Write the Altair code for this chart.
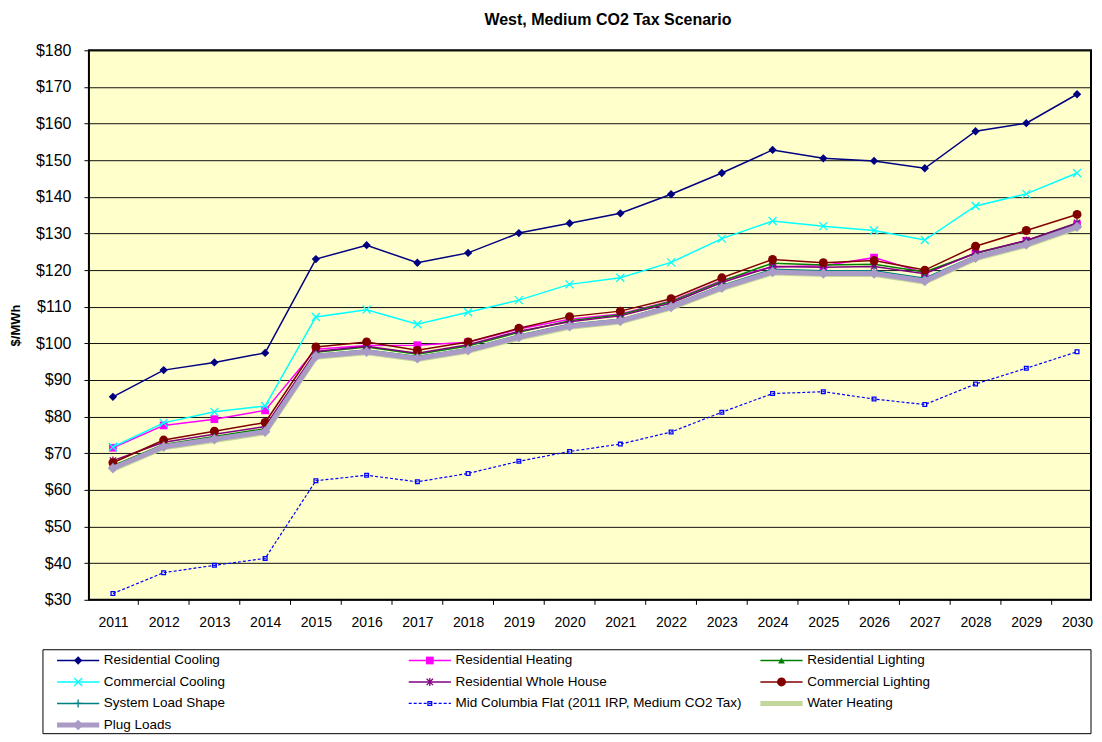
import altair as alt
import pandas as pd

# ---------------- data ----------------
years = [str(y) for y in range(2011, 2031)]

series_names = [
    "Residential Cooling",
    "Residential Heating",
    "Residential Lighting",
    "Commercial Cooling",
    "Residential Whole House",
    "Commercial Lighting",
    "System Load Shape",
    "Mid Columbia Flat (2011 IRP, Medium CO2 Tax)",
    "Water Heating",
    "Plug Loads",
]

residential_cooling = [85.4, 92.7, 94.8, 97.4, 123.0, 126.8, 122.0, 124.7, 130.1, 132.8,
                       135.5, 140.7, 146.5, 152.8, 150.5, 149.8, 147.8, 157.9, 160.1, 168.0]
residential_heating = [71.5, 77.6, 79.3, 81.7, 98.4, 99.4, 99.5, 100.3, 103.9, 106.6,
                       108.0, 111.6, 117.2, 120.9, 121.2, 123.4, 119.2, 124.5, 128.0, 132.4]
residential_lighting = [66.6, 72.4, 74.6, 76.7, 97.6, 99.0, 97.0, 99.3, 103.0, 106.2,
                        107.8, 111.4, 117.0, 121.9, 121.4, 121.6, 119.5, 124.6, 128.0, 132.8]
commercial_cooling = [71.7, 78.3, 81.3, 82.9, 107.2, 109.2, 105.2, 108.5, 111.8, 116.1,
                      117.9, 122.1, 128.6, 133.4, 132.0, 130.8, 128.2, 137.5, 140.8, 146.5]
residential_whole_house = [68.0, 73.0, 75.2, 77.3, 97.8, 99.2, 97.3, 99.6, 103.3, 105.9,
                           107.5, 111.0, 116.6, 121.0, 120.8, 121.0, 119.0, 124.7, 128.1, 132.9]
commercial_lighting = [67.4, 73.6, 76.0, 78.4, 99.0, 100.4, 98.1, 100.4, 104.1, 107.3,
                       108.8, 112.2, 117.9, 122.9, 122.0, 122.6, 120.0, 126.5, 130.8, 135.2]
system_load_shape = [66.3, 72.2, 74.3, 76.3, 97.0, 98.2, 96.4, 98.6, 102.2, 105.2,
                     106.6, 110.4, 115.8, 120.2, 119.8, 119.8, 117.8, 123.9, 127.4, 132.2]
mid_columbia_flat = [31.7, 37.4, 39.4, 41.3, 62.5, 64.0, 62.2, 64.5, 67.8, 70.5,
                     72.5, 75.8, 81.2, 86.3, 86.8, 84.8, 83.3, 88.9, 93.2, 97.7]
water_heating = [65.6, 71.5, 73.5, 75.6, 96.2, 97.4, 95.6, 97.8, 101.4, 104.4,
                 105.8, 109.6, 114.9, 119.2, 118.8, 118.8, 116.7, 123.1, 126.7, 131.5]
plug_loads = [65.9, 71.8, 73.8, 75.9, 96.5, 97.7, 95.9, 98.1, 101.7, 104.7,
              106.1, 109.9, 115.2, 119.5, 119.1, 119.1, 117.0, 123.4, 127.0, 131.8]

y_ticks = list(range(30, 181, 10))

series_values = [
    residential_cooling, residential_heating, residential_lighting,
    commercial_cooling, residential_whole_house, commercial_lighting,
    system_load_shape, mid_columbia_flat, water_heating, plug_loads,
]

# ---------------- styles ----------------
X_PATH = "M-1,-1L1,1M-1,1L1,-1"
PLUS_PATH = "M-1,0H1M0,-1V1"
STAR_PATH = "M-0.8,-0.8L0.8,0.8M-0.8,0.8L0.8,-0.8M0,-1V1"

styles = {
    "Residential Cooling": dict(color="#000080", width=1.5, shape="diamond", size=70, filled=True),
    "Residential Heating": dict(color="#FF00FF", width=1.5, shape="square", size=60, filled=True),
    "Residential Lighting": dict(color="#008000", width=1.5, shape="triangle-up", size=45, filled=True),
    "Commercial Cooling": dict(color="#00FFFF", width=1.5, shape=X_PATH, size=64, filled=False),
    "Residential Whole House": dict(color="#800080", width=1.5, shape=STAR_PATH, size=64, filled=False),
    "Commercial Lighting": dict(color="#800000", width=1.5, shape="circle", size=80, filled=True),
    "System Load Shape": dict(color="#008080", width=1.5, shape=PLUS_PATH, size=64, filled=False),
    "Mid Columbia Flat (2011 IRP, Medium CO2 Tax)": dict(color="#0000FF", width=1.2, dash=[3, 2],
                                                         shape="square", size=14, filled=False),
    "Water Heating": dict(color="#C3D69B", width=5, shape=None),
    "Plug Loads": dict(color="#A99BC6", width=5, shape="diamond", size=110, filled=True),
}

FONT = "Liberation Sans"
PLOT_W, PLOT_H = 1003, 550
STEP = 50.79  # pixel distance between two years in the reference

# ---------------- long table ----------------
rows = []
for name, vals in zip(series_names, series_values):
    for yr, v in zip(years, vals):
        rows.append({"year": yr, "value": v, "series": name})
df = pd.DataFrame(rows)

x_scale = alt.Scale(type="point", padding=0.374, align=0.632)
X_AXIS = alt.Axis(title=None, labelAngle=0, ticks=False, labelFontSize=14, labelColor="black",
                  labelPadding=16, domain=False, grid=False, labelFont=FONT)
X = alt.X("year:O", scale=x_scale, axis=X_AXIS)
Y = alt.Y(
    "value:Q",
    scale=alt.Scale(domain=[30, 180], nice=False, zero=False),
    axis=alt.Axis(values=y_ticks, labelExpr="'$' + datum.value", grid=True, gridColor="#111",
                  gridWidth=1, domain=False, tickSize=5, tickColor="black", labelFontSize=16,
                  labelColor="black", labelPadding=13, title="$/MWh", titleFontSize=13,
                  titleFontWeight="bold", titleColor="black", titlePadding=13, labelFont=FONT,
                  titleFont=FONT),
)

base = alt.Chart(df)
layers = []
for name in series_names:
    st = styles[name]
    src = base.transform_filter(alt.datum.series == name)
    line_kw = dict(color=st["color"], strokeWidth=st["width"])
    if st.get("dash"):
        line_kw["strokeDash"] = st["dash"]
    layers.append(src.mark_line(**line_kw).encode(x=X, y=Y))
    if st["shape"]:
        pt_kw = dict(shape=st["shape"], size=st["size"], filled=st["filled"], opacity=1,
                     color=st["color"], strokeWidth=1.3)
        layers.append(src.mark_point(**pt_kw).encode(x=X, y=Y))

# x-axis tick marks sit between the years (category boundaries)
tick_df = pd.DataFrame({"year": years[:-1]})
x_ticks = alt.Chart(tick_df).mark_rule(color="black", strokeWidth=1).encode(
    x=X,
    xOffset=alt.value(STEP / 2),
    y=alt.value(PLOT_H),
    y2=alt.value(PLOT_H + 5),
)
layers.append(x_ticks)

main = alt.layer(*layers).properties(
    width=PLOT_W,
    height=PLOT_H,
    title=alt.Title("West, Medium CO2 Tax Scenario", fontSize=16, fontWeight="bold", font=FONT,
                    color="black", anchor="middle", frame="group", dx=18, offset=14),
    view=alt.ViewBackground(fill="#FFFFCC", stroke="black", strokeWidth=2),
)

# ---------------- legend (drawn as its own small chart) ----------------
# legend x positions are in "column" units (one column = 352 px); the box starts 46 px
# left of the plot's left edge, as in the reference
COL_PX = 352
LEG_LEFT = 46 / COL_PX
LEG_RIGHT = (46 + PLOT_W) / COL_PX
ROW_TOP, ROW_BOTTOM = -0.5, 3.407

leg_rows = []
for i, name in enumerate(series_names):
    c, r = i % 3, i // 3
    leg_rows.append({"series": name, "row": r, "x0": c + 0.04, "x1": c + 0.16,
                     "xm": c + 0.10, "xt": c + 0.173})
leg_df = pd.DataFrame(leg_rows)
box_df = pd.DataFrame({"bx0": [0.0], "bx1": [LEG_RIGHT], "by0": [ROW_TOP], "by1": [ROW_BOTTOM]})

LX = alt.Scale(domain=[LEG_LEFT, LEG_RIGHT], nice=False, zero=False)
LY = alt.Scale(domain=[ROW_TOP, ROW_BOTTOM], nice=False, zero=False, reverse=True)

leg_layers = [
    alt.Chart(box_df).mark_rect(fill="white", stroke="black", strokeWidth=1).encode(
        x=alt.X("bx0:Q", scale=LX, axis=None), x2="bx1:Q",
        y=alt.Y("by0:Q", scale=LY, axis=None), y2="by1:Q")
]
leg_base = alt.Chart(leg_df)
for name in series_names:
    st = styles[name]
    src = leg_base.transform_filter(alt.datum.series == name)
    rule_kw = dict(color=st["color"], strokeWidth=st["width"])
    if st.get("dash"):
        rule_kw["strokeDash"] = st["dash"]
    leg_layers.append(src.mark_rule(**rule_kw).encode(
        x=alt.X("x0:Q", scale=LX, axis=None), x2="x1:Q", y=alt.Y("row:Q", scale=LY, axis=None)))
    if st["shape"]:
        leg_layers.append(src.mark_point(shape=st["shape"], size=st["size"], filled=st["filled"],
                                         opacity=1, color=st["color"], strokeWidth=1.3).encode(
            x=alt.X("xm:Q", scale=LX, axis=None), y=alt.Y("row:Q", scale=LY, axis=None)))
leg_layers.append(leg_base.mark_text(align="left", baseline="middle", fontSize=13.5, font=FONT,
                                     color="black").encode(
    x=alt.X("xt:Q", scale=LX, axis=None), y=alt.Y("row:Q", scale=LY, axis=None), text="series:N"))

legend = alt.layer(*leg_layers).properties(width=PLOT_W, height=84)

chart = alt.vconcat(main, legend, spacing=18).properties(
    padding={"left": 0, "top": 3, "right": 0, "bottom": 0}
).configure(font=FONT).configure_view(stroke="transparent")

chart.save("out.html", embed_options={"renderer": "svg", "actions": False})
